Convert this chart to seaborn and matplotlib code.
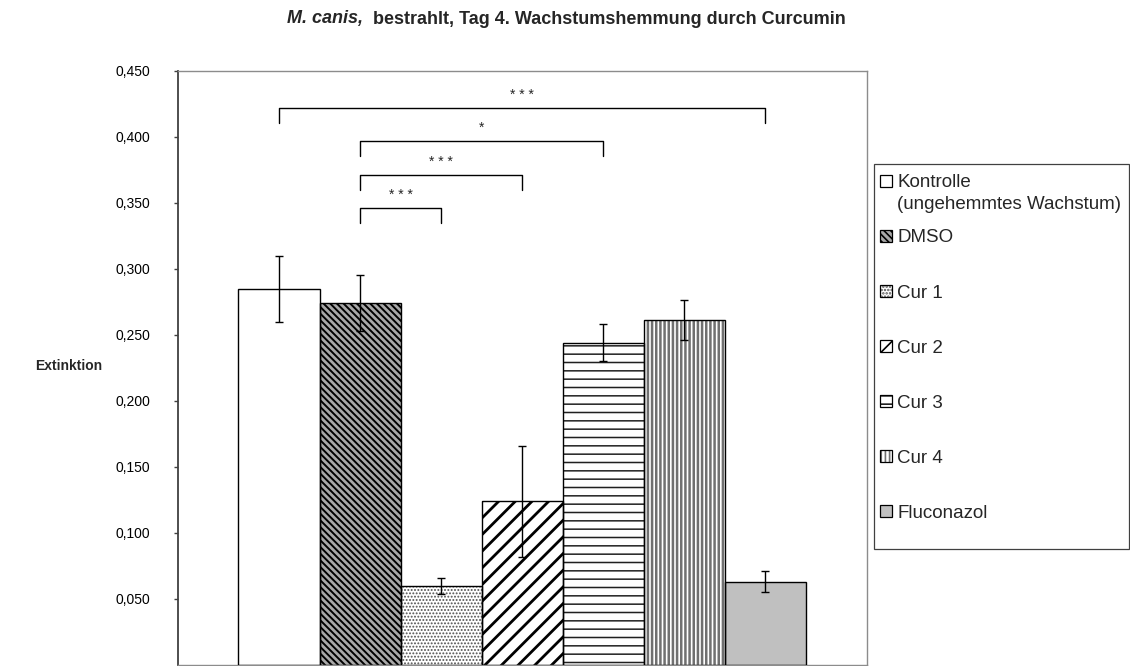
import matplotlib
matplotlib.use("Agg")
import matplotlib.pyplot as plt
import seaborn as sns
from matplotlib.patches import Rectangle

# Daten
gruppen = ["Kontrolle", "DMSO", "Cur 1", "Cur 2", "Cur 3", "Cur 4", "Fluconazol"]
extinktion = [0.285, 0.274, 0.060, 0.124, 0.244, 0.261, 0.063]
fehler = [0.025, 0.021, 0.006, 0.042, 0.014, 0.015, 0.008]

# Signifikanz-Klammern: (von, bis), Hoehe, Sterne
vergleiche = [(0, 6), (1, 4), (1, 3), (1, 2)]
klammer_hoehe = [0.422, 0.397, 0.371, 0.346]
sterne = ["* * *", "*", "* * *", "* * *"]

yticks = [0.05, 0.10, 0.15, 0.20, 0.25, 0.30, 0.35, 0.40, 0.45]

# Fuellung, Schraffur, Schraffurfarbe, Schraffur-Linienbreite
stile = {
    "Kontrolle": ("white", "", "white", 1.0),
    "DMSO": ("#a8a8a8", "\\\\\\\\\\", "black", 1.4),
    "Cur 1": ("white", ".....", "#505050", 0.9),
    "Cur 2": ("white", "//", "black", 2.0),
    "Cur 3": ("white", "--", "#202020", 1.1),
    "Cur 4": ("white", "||||", "#707070", 1.8),
    "Fluconazol": ("#c0c0c0", "", "#c0c0c0", 1.0),
}

sns.set_style("white")
plt.rcParams["font.family"] = ["Liberation Sans", "DejaVu Sans"]
plt.rcParams["hatch.linewidth"] = 1.2

fig = plt.figure(figsize=(11.3, 6.66), dpi=100)
ax = fig.add_axes([177.7 / 1130, 1 / 666, 689 / 1130, 594.3 / 666])

palette = {g: stile[g][0] for g in gruppen}
sns.barplot(x=gruppen, y=extinktion, hue=gruppen, palette=palette, width=1.0,
            saturation=1, errorbar=None, legend=False, ax=ax)

bars = sorted(ax.patches, key=lambda p: p.get_x())
mitten = []
for p, g in zip(bars, gruppen):
    fc, hatch, hc, hlw = stile[g]
    p.set_hatch(hatch)
    p.set_edgecolor(hc)
    p.set_linewidth(0)
    if hasattr(p, "set_hatch_linewidth"):
        p.set_hatch_linewidth(hlw)
    ax.add_patch(Rectangle((p.get_x(), p.get_y()), p.get_width(), p.get_height(),
                           fill=False, edgecolor="black", linewidth=1.0, zorder=3))
    mitten.append(p.get_x() + p.get_width() / 2)

ax.errorbar(mitten, extinktion, yerr=fehler, fmt="none", ecolor="black",
            elinewidth=1.0, capsize=3.2, capthick=1.0, zorder=4)

# Klammern
bein = 0.0115
for (i, j), h, s in zip(vergleiche, klammer_hoehe, sterne):
    x1, x2 = mitten[i], mitten[j]
    ax.plot([x1, x1, x2, x2], [h - bein, h, h, h - bein], color="black", lw=1.0)
    ax.text((x1 + x2) / 2, h + 0.0068, s, ha="center", va="baseline", fontsize=10)

ax.set_xlim(-1.25, 7.25)
ax.set_ylim(0, 0.45)
ax.set_xticks([])
ax.set_xlabel("")
ax.set_ylabel("")
ax.set_yticks(yticks)
ax.set_yticklabels([f"{v:.3f}".replace(".", ",") for v in yticks], fontsize=10)
ax.tick_params(axis="y", direction="out", length=3, width=1, color="#404040",
               pad=17, labelcolor="black", left=True)

for side in ["top", "right", "bottom"]:
    ax.spines[side].set_color("#8c8c8c")
    ax.spines[side].set_linewidth(1.0)
ax.spines["left"].set_color("#404040")
ax.spines["left"].set_linewidth(1.3)

fig.text(102 / 1130, 1 - 366 / 666, "Extinktion", ha="right", va="center",
         fontsize=10, fontweight="bold")

# Titel
t1 = fig.text(0.3, 1 - 19 / 666, "M. canis,", fontsize=13, fontweight="bold",
              fontstyle="italic", ha="left", va="center")
t2 = ax.annotate("  bestrahlt, Tag 4. Wachstumshemmung durch Curcumin", xy=(1, 0),
                 xycoords=t1, ha="left", va="bottom", fontsize=13,
                 fontweight="bold", annotation_clip=False)
renderer = fig.canvas.get_renderer()
w1 = t1.get_window_extent(renderer).width
w2 = t2.get_window_extent(renderer).width
t1.set_x((566 - (w1 + w2) / 2) / 1130)

# Legende
handles = []
for g in gruppen:
    fc, hatch, hc, hlw = stile[g]
    fuell = Rectangle((0, 0), 1, 1, facecolor=fc, hatch=hatch, edgecolor=hc, linewidth=0)
    rand = Rectangle((0, 0), 1, 1, fill=False, edgecolor="black", linewidth=0.9)
    handles.append((fuell, rand))

leg = ax.legend(handles, gruppen, loc="upper left",
                bbox_to_anchor=(880 / 1130, 1 - 174.4 / 666),
                bbox_transform=fig.transFigure,
                frameon=False, fontsize=13.5, handlelength=0.64, handleheight=0.64,
                handletextpad=0.27, labelspacing=2.03, borderpad=0, borderaxespad=0)
ax.annotate("(ungehemmtes Wachstum)", xy=(0, 0), xycoords=leg.get_texts()[0],
            xytext=(0, -21.6), textcoords="offset pixels", ha="left", va="bottom",
            fontsize=13.5, annotation_clip=False, zorder=10)
fig.add_artist(Rectangle((874 / 1130, 1 - 549 / 666), 255 / 1130, 385 / 666,
                         transform=fig.transFigure, fill=False,
                         edgecolor="#404040", linewidth=0.9))

fig.savefig("out.png", dpi=100)
